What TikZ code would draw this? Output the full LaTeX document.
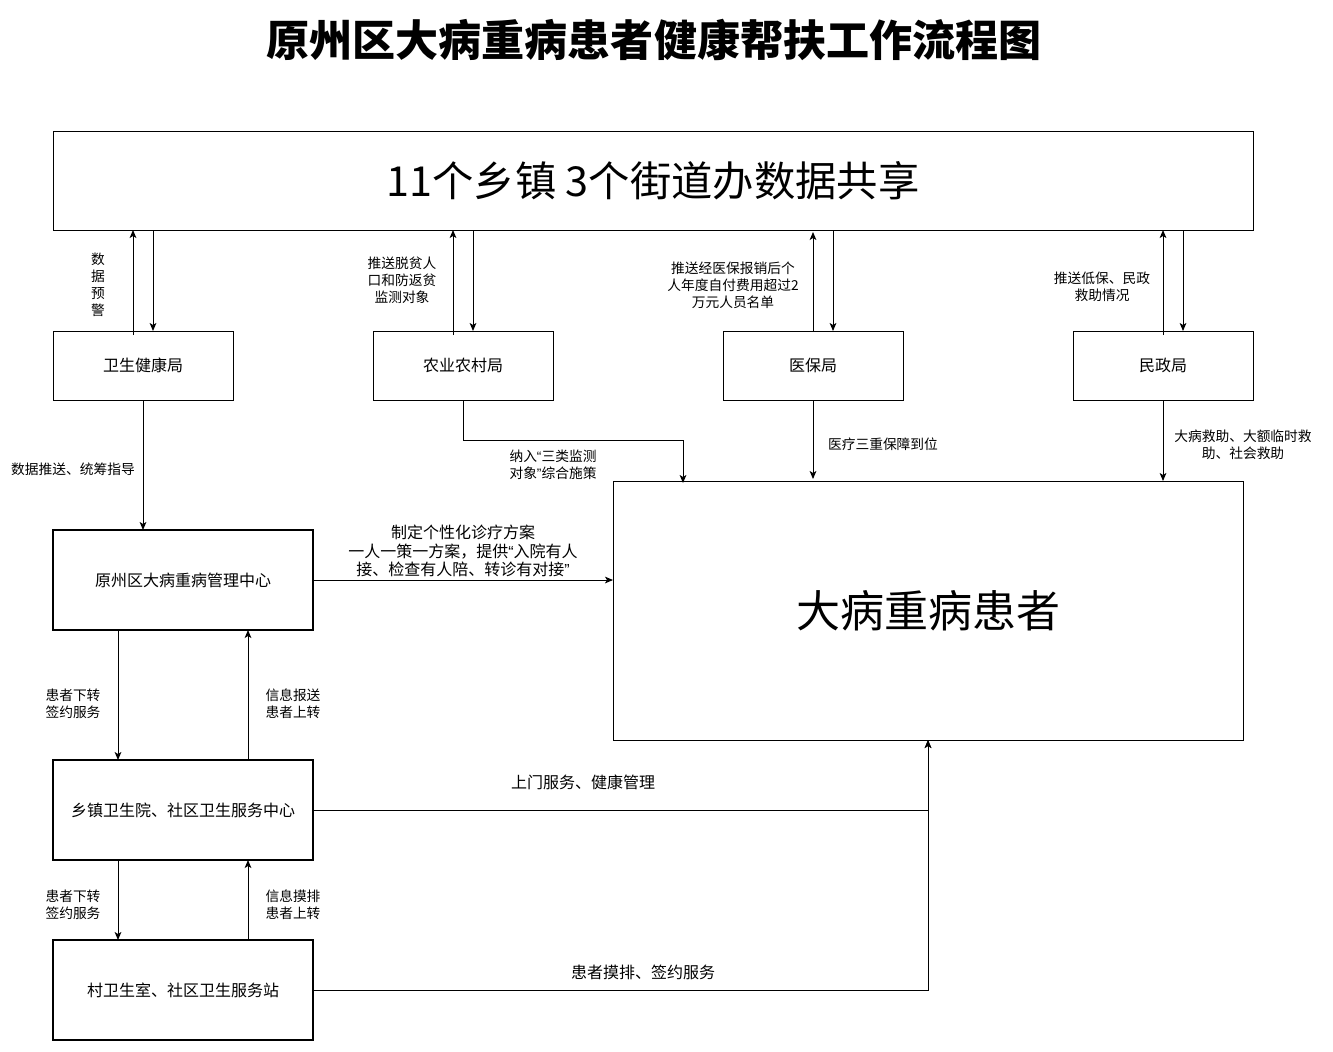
\documentclass[tikz,border=0pt]{standalone}
\usepackage{fontspec}
\setmainfont{Noto Sans CJK SC}
\newfontfamily\latq{Liberation Sans}
\usetikzlibrary{arrows.meta,calc}
\tikzset{
  box/.style={draw=black,line width=0.75pt,inner sep=0pt,outer sep=0pt,align=center,font=\fontsize{12pt}{15pt}\selectfont},
  thickbox/.style={box,line width=1.5pt},
  lbl/.style={inner sep=0pt,align=center,font=\fontsize{10.3pt}{12.75pt}\selectfont},
  biglbl/.style={lbl,font=\fontsize{12pt}{14pt}\selectfont},
  conn/.style={line width=0.75pt},
  arr/.style={conn,-{Stealth[length=6pt,width=5pt,inset=1.5pt]}}
}
\begin{document}
\begin{tikzpicture}[x=0.75pt,y=-0.75pt]
\useasboundingbox[fill=white] (0,0) rectangle (1333,1051);
% title
\node[inner sep=0pt,font=\fontsize{32.3pt}{40pt}\selectfont\bfseries] (title) at (654,40) {原州区大病重病患者健康帮扶工作流程图};
% top box
\node[box,minimum width=900pt,minimum height=74.25pt,font=\fontsize{31pt}{36pt}\selectfont] (top) at (653,180.5) {11个乡镇 3个街道办数据共享};
% departments
\node[box,minimum width=135pt,minimum height=51.75pt] (wsj) at (143,365.5) {卫生健康局};
\node[box,minimum width=135pt,minimum height=51.75pt] (nyj) at (463,365.5) {农业农村局};
\node[box,minimum width=135pt,minimum height=51.75pt] (ybj) at (813,365.5) {医保局};
\node[box,minimum width=135pt,minimum height=51.75pt] (mzj) at (1163,365.5) {民政局};
% patient box
\node[box,minimum width=472.5pt,minimum height=194.25pt,font=\fontsize{33pt}{40pt}\selectfont] (pat) at (928,610.5) {大病重病患者};
% left column
\node[thickbox,minimum width=195pt,minimum height=75pt] (gl) at (183,580) {原州区大病重病管理中心};
\node[thickbox,minimum width=195pt,minimum height=75pt] (xz) at (183,810) {乡镇卫生院、社区卫生服务中心};
\node[thickbox,minimum width=195pt,minimum height=75pt] (cun) at (183,990) {村卫生室、社区卫生服务站};

% top <-> departments
\draw[arr] ($(wsj.north)+(-10,4)$) -- ($(wsj.north |- top.south)+(-10,0)$);
\draw[arr] ($(wsj.north |- top.south)+(10,0)$) -- ($(wsj.north)+(10,0)$);
\draw[arr] ($(nyj.north)+(-10,4)$) -- ($(nyj.north |- top.south)+(-10,0)$);
\draw[arr] ($(nyj.north |- top.south)+(10,0)$) -- ($(nyj.north)+(10,0)$);
\draw[arr] (ybj.north) -- ($(ybj.north |- top.south)+(0,2)$);
\draw[arr] ($(ybj.north |- top.south)+(20,0)$) -- ($(ybj.north)+(20,0)$);
\draw[arr] ($(mzj.north)+(0,4)$) -- (mzj.north |- top.south);
\draw[arr] ($(mzj.north |- top.south)+(20,0)$) -- ($(mzj.north)+(20,0)$);

\node[lbl] (l1) at (98,285) {数\\据\\预\\警};
\node[lbl] (l2) at (402,280) {推送脱贫人\\口和防返贫\\监测对象};
\node[lbl] (l3) at (733,285) {推送经医保报销后个\\人年度自付费用超过2\\万元人员名单};
\node[lbl] (l4) at (1102,287) {推送低保、民政\\救助情况};

% departments -> below
\draw[arr] (wsj.south) -- (wsj.south |- gl.north);
\coordinate (nyc) at ($(pat.north)+(-245,-41)$);
\coordinate (nyd) at ($(pat.north)+(-245,2)$);
\draw[arr] (nyj.south) |- (nyc) -- (nyd);
\draw[arr] (ybj.south) -- ($(ybj.south |- pat.north)+(0,-2)$);
\draw[arr] (mzj.south) -- (mzj.south |- pat.north);

\node[lbl] (l5) at (73,469) {数据推送、统筹指导};
\node[lbl] (l6) at (553,465) {纳入{\latq “}三类监测\\对象{\latq ”}综合施策};
\node[lbl] (l7) at (883,444) {医疗三重保障到位};
\node[lbl] (l8) at (1243,445) {大病救助、大额临时救\\助、社会救助};

% management -> patient
\draw[arr] (gl.east) -- (gl.east -| pat.west);
\node[biglbl] (l9) at (463,551) {制定个性化诊疗方案\\一人一策一方案，提供{\latq “}入院有人\\接、检查有人陪、转诊有对接{\latq ”}};

% left column arrows
\draw[arr] ($(gl.south)+(-65,0)$) -- ($(xz.north)+(-65,0)$);
\draw[arr] ($(xz.north)+(65,0)$) -- ($(gl.south)+(65,0)$);
\draw[arr] ($(xz.south)+(-65,0)$) -- ($(cun.north)+(-65,0)$);
\draw[arr] ($(cun.north)+(65,0)$) -- ($(xz.south)+(65,0)$);
\node[lbl] (l10) at (73,704) {患者下转\\签约服务};
\node[lbl] (l11) at (293,704) {信息报送\\患者上转};
\node[lbl] (l12) at (73,905) {患者下转\\签约服务};
\node[lbl] (l13) at (293,905) {信息摸排\\患者上转};

% primary care -> patient
\draw[arr] (xz.east) -| (pat.south);
\draw[arr] (cun.east) -| (pat.south);
\node[biglbl] (l14) at (583,782) {上门服务、健康管理};
\node[biglbl] (l15) at (643,972) {患者摸排、签约服务};
\end{tikzpicture}
\end{document}
